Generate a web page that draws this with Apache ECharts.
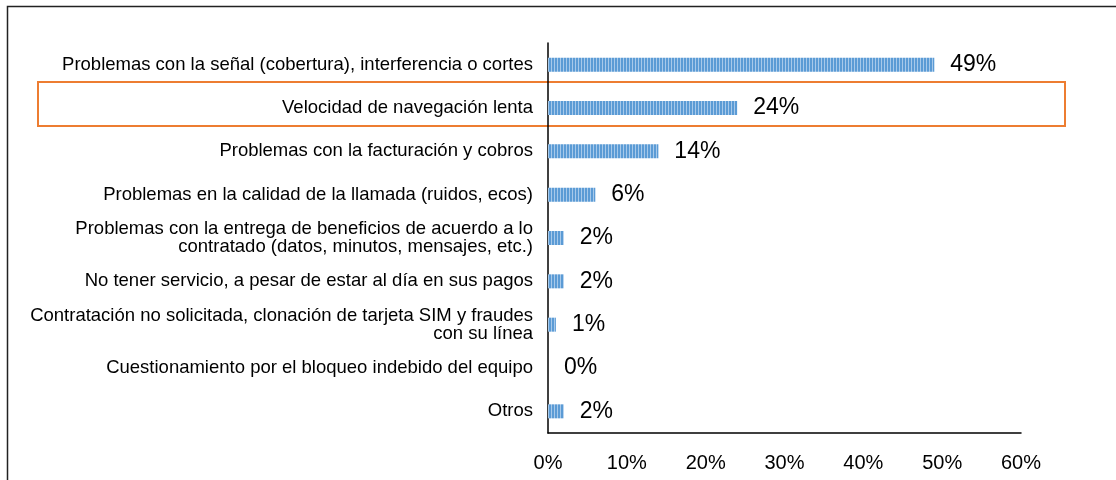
<!DOCTYPE html>
<html>
<head>
<meta charset="utf-8">
<script src="https://cdn.jsdelivr.net/npm/echarts@6/dist/echarts.min.js"></script>
<style>
  html, body { margin: 0; padding: 0; background: #fff; }
  #chart { width: 1116px; height: 480px; }
</style>
</head>
<body>
<div id="chart"></div>
<script>
'use strict';

const categories = [
  'Problemas con la señal (cobertura), interferencia o cortes',
  'Velocidad de navegación lenta',
  'Problemas con la facturación y cobros',
  'Problemas en la calidad de la llamada (ruidos, ecos)',
  'Problemas con la entrega de beneficios de acuerdo a lo\ncontratado (datos, minutos, mensajes, etc.)',
  'No tener servicio, a pesar de estar al día en sus pagos',
  'Contratación no solicitada, clonación de tarjeta SIM y fraudes\ncon su línea',
  'Cuestionamiento por el bloqueo indebido del equipo',
  'Otros'
];
const values = [49, 24, 14, 6, 2, 2, 1, 0, 2];
const axisMin = 0;
const axisMax = 60;
const axisStep = 10;

// striped fill like the original bars
function makeStripe() {
  const c = document.createElement('canvas');
  c.width = 3;
  c.height = 2;
  const ctx = c.getContext('2d');
  ctx.fillStyle = '#5B9BD5';
  ctx.fillRect(0, 0, 3, 2);
  ctx.fillStyle = '#A7C9EA';
  ctx.fillRect(2, 0, 1, 2);
  return c;
}

const chart = echarts.init(document.getElementById('chart'));
const option = {
  animation: false,
  grid: {
    left: 548,
    top: 43,
    width: 473,
    height: 390
  },
  xAxis: {
    type: 'value',
    min: axisMin,
    max: axisMax,
    interval: axisStep,
    axisLine: { show: true, lineStyle: { color: '#000', width: 1.5 } },
    axisTick: { show: false },
    splitLine: { show: false },
    axisLabel: {
      formatter: '{value}%',
      fontFamily: 'Liberation Sans, Arial',
      fontSize: 20,
      color: '#000',
      margin: 20
    }
  },
  yAxis: {
    type: 'category',
    inverse: true,
    data: categories,
    axisLine: { show: true, lineStyle: { color: '#000', width: 1.5 } },
    axisTick: { show: false },
    axisLabel: {
      fontFamily: 'Liberation Sans, Arial',
      fontSize: 18.5,
      lineHeight: 18,
      color: '#000',
      margin: 15,
      align: 'right'
    }
  },
  series: [{
    type: 'bar',
    data: values,
    barWidth: 14,
    itemStyle: {
      color: { image: makeStripe(), repeat: 'repeat' }
    },
    label: {
      show: true,
      position: 'right',
      distance: 16,
      formatter: '{c}%',
      fontFamily: 'Liberation Sans, Arial',
      fontSize: 23,
      color: '#000'
    }
  }],
  graphic: [
    {
      type: 'rect',
      shape: { x: 7.5, y: 6.5, width: 1120, height: 480 },
      style: { fill: 'none', stroke: '#222', lineWidth: 1.5 },
      silent: true
    },
    {
      type: 'rect',
      shape: { x: 38, y: 82, width: 1027, height: 44 },
      style: { fill: 'none', stroke: '#ED7D31', lineWidth: 2 },
      silent: true
    }
  ]
};
chart.setOption(option);
</script>
</body>
</html>
